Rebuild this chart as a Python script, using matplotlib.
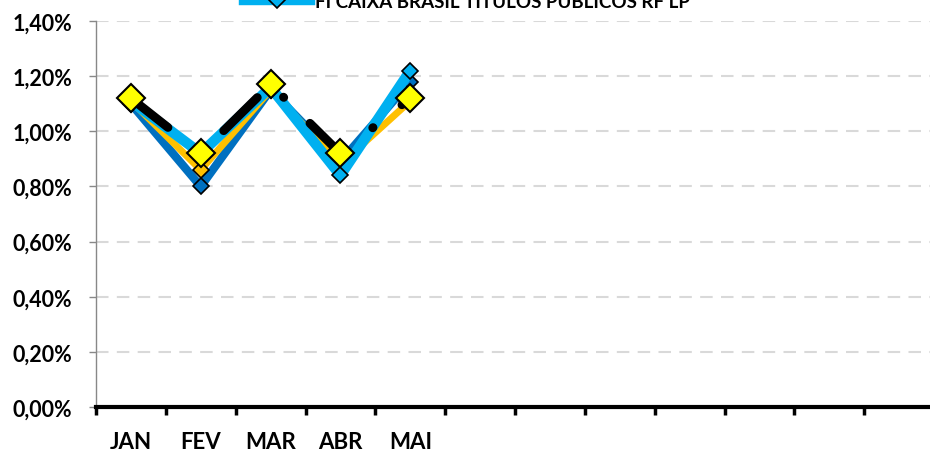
import matplotlib
matplotlib.use("Agg")
import matplotlib.pyplot as plt
from matplotlib.lines import Line2D
from matplotlib.ticker import FuncFormatter, MultipleLocator, FixedLocator

plt.rcParams['font.family'] = ['Lato', 'DejaVu Sans']
plt.rcParams['font.weight'] = 'bold'

meses = ['JAN', 'FEV', 'MAR', 'ABR', 'MAI', '', '', '', '', '', '', '']

# rentabilidade mensal (%)
caixa_tp = [1.11, 0.92, 1.16, 0.84, 1.22]       # azul claro
azul_escuro = [1.10, 0.80, 1.15, 0.89, 1.18]
laranja = [1.11, 0.86, 1.15, 0.88, 1.11]
meta = [1.12, 0.92, 1.17, 0.92, 1.12]           # preto + losango amarelo

legenda = 'FI CAIXA BRASIL TITULOS PUBLICOS RF LP'

fig = plt.figure(figsize=(9.30, 4.52), dpi=100)
ax = fig.add_axes([96 / 930, 44 / 452, 838 / 930, 386 / 452])

x = list(range(len(caixa_tp)))

ax.plot(x, azul_escuro, color='#0070C0', lw=6, marker='D', ms=8,
        mfc='#0070C0', mec='black', mew=1.2, zorder=3)
ax.plot(x, laranja, color='#FFC000', lw=5, marker='D', ms=8,
        mfc='#FFC000', mec='black', mew=1.2, zorder=4)
ln_cx, = ax.plot(x, caixa_tp, color='#00B0F0', lw=7.5, marker='D', ms=8,
                 mfc='#00B0F0', mec='black', mew=1.2, zorder=5)
ax.plot(x, meta, color='black', lw=6.3, linestyle=(0, (5.4, 4.2, 0.05, 4.2)),
        dash_capstyle='round', zorder=6)
ax.plot(x, meta, linestyle='none', marker='D', ms=14, mfc='#FFFF00',
        mec='black', mew=1.5, zorder=7)

ax.set_xlim(-0.5, 11.5)
ax.set_ylim(0, 1.4)

# eixo y
ax.yaxis.set_major_locator(MultipleLocator(0.2))
ax.yaxis.set_major_formatter(FuncFormatter(lambda v, p: f'{v:.2f}%'.replace('.', ',')))
ax.tick_params(axis='y', length=5, width=1, color='#888888', pad=12, labelsize=15.5)
ax.grid(axis='y', color='#D9D9D9', linestyle=(0, (6, 4)), linewidth=1.5)
ax.set_axisbelow(True)

# eixo x: marcas entre categorias, rotulos no centro
ax.xaxis.set_major_locator(FixedLocator([i - 0.5 for i in range(13)]))
ax.xaxis.set_major_formatter(FuncFormatter(lambda v, p: ''))
ax.xaxis.set_minor_locator(FixedLocator(range(12)))
ax.set_xticklabels(meses, minor=True)
ax.tick_params(axis='x', which='major', length=6, width=2.5, color='black', direction='out')
ax.tick_params(axis='x', which='minor', length=0, pad=17, labelsize=16)

for s in ['top', 'right']:
    ax.spines[s].set_visible(False)
ax.spines['left'].set_color('#888888')
ax.spines['left'].set_linewidth(1)
ax.spines['bottom'].set_color('black')
ax.spines['bottom'].set_linewidth(3)
ax.spines['bottom'].set_zorder(8)

h = Line2D([], [], color='#00B0F0', lw=7.5, marker='D', ms=8,
           mfc='#00B0F0', mec='black', mew=1.2)
fig.legend([h], [legenda], loc='center', bbox_to_anchor=(0.502, 0.995),
           frameon=False, handlelength=3.5, handletextpad=0.25,
           borderpad=0, prop={'size': 13.5, 'weight': 'bold'})

fig.savefig('out.png', dpi=100)
